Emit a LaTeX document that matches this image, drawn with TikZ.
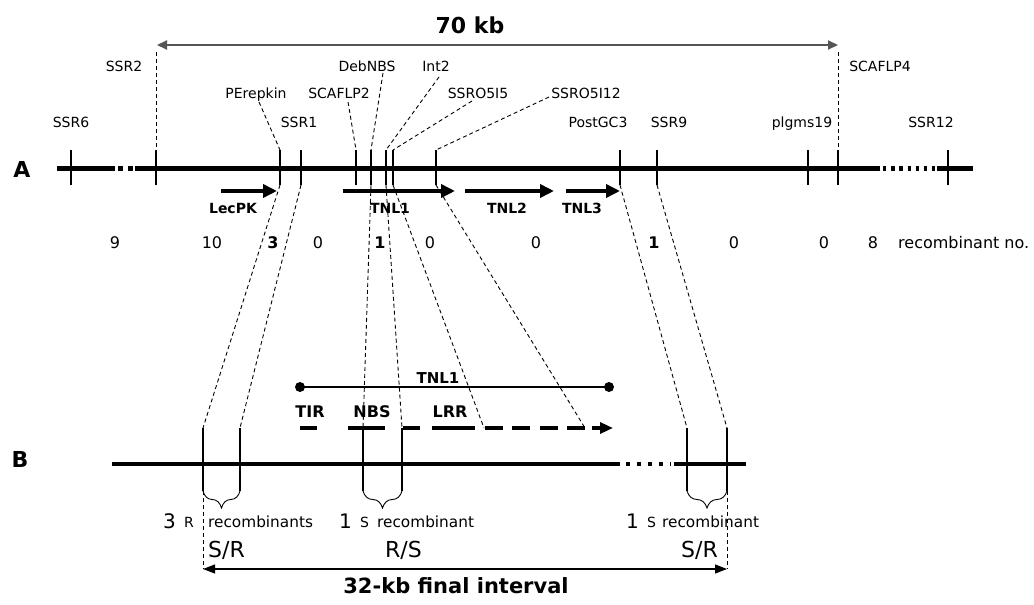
\documentclass[tikz,border=0pt]{standalone}
\usepackage{fontspec}
\setmainfont{DejaVu Sans}
\usetikzlibrary{arrows.meta,decorations.pathreplacing}
\newcommand\myfs[1]{\fontsize{#1}{#1}\selectfont}
\begin{document}
\begin{tikzpicture}[x=1pt,y=-1pt,
  tickln/.style={line width=1.3pt},
  lead/.style={line width=0.9pt,dash pattern=on 4pt off 3pt},
  chrom/.style={line width=5pt},
  gene/.style={line width=4.5pt,-{Triangle[length=14pt,width=13pt]}},
  dom/.style={line width=4.5pt},
  lbl/.style={font=\myfs{14},inner sep=0pt,anchor=base},
  glbl/.style={font=\bfseries\myfs{14},inner sep=0pt,anchor=base},
  num/.style={font=\myfs{16},inner sep=0pt,anchor=base},
  bnum/.style={font=\bfseries\myfs{16},inner sep=0pt,anchor=base},
  big/.style={font=\bfseries\myfs{22},inner sep=0pt,anchor=base},
  rec/.style={font=\myfs{15.3},inner sep=0pt,anchor=base west},
  recn/.style={font=\myfs{20},inner sep=0pt,anchor=base west},
  recl/.style={font=\myfs{14},inner sep=0pt,anchor=base west},
  phen/.style={font=\myfs{22},inner sep=0pt,anchor=base west},
  brc/.style={decorate,decoration={brace,mirror,amplitude=17pt,aspect=0.5},line width=0.9pt},
]
\useasboundingbox (0,0) rectangle (1034,605);

% ---- title arrow 70 kb
\node[big] (t70) at (470,33) {70 kb};
\coordinate (k70L) at (157,45);
\coordinate (k70R) at (838,45);
\draw[line width=2pt,color={rgb,255:red,85;green,85;blue,85},
  {Triangle[length=10pt,width=9pt]}-{Triangle[length=10pt,width=9pt]}] (k70L) -- (k70R);

% ---- A chromosome line
\node[big] (labA) at (22,177) {A};
\draw[chrom] (57,168) -- (115,168);
\draw[chrom,dash pattern=on 5pt off 5pt] (118,168) -- (134,168);
\draw[chrom] (135,168) -- (880,168);
\draw[chrom,dash pattern=on 3.3pt off 4.9pt] (883,168) -- (935,168);
\draw[chrom] (937,168) -- (973,168);

% ---- ticks on A
\foreach \n/\x in {ssr6/71,ssr2/156,perep/280,ssr1/301,scaf2/356,deb/371,int2/386,o5i5/393,o5i12/436,post/620,ssr9/657,plg/808,scaf4/838,ssr12/948}{
  \coordinate (\n-t) at (\x,150);
  \coordinate (\n-b) at (\x,185);
  \draw[tickln] (\n-t) -- (\n-b);
}

% ---- marker labels
\node[lbl] (lSSR2) at (124,71) {SSR2};
\node[lbl] (lDeb) at (367,71) {DebNBS};
\node[lbl] (lInt2) at (436,71) {Int2};
\node[lbl] (lScaf4) at (880,71) {SCAFLP4};
\node[lbl] (lPerep) at (256,98) {PErepkin};
\node[lbl] (lScaf2) at (339,98) {SCAFLP2};
\node[lbl] (lO5i5) at (478,98) {SSRO5I5};
\node[lbl] (lO5i12) at (586,98) {SSRO5I12};
\node[lbl] (lSSR6) at (71,127) {SSR6};
\node[lbl] (lSSR1) at (299,127) {SSR1};
\node[lbl] (lPost) at (598,127) {PostGC3};
\node[lbl] (lSSR9) at (669,127) {SSR9};
\node[lbl] (lPlg) at (802,127) {plgms19};
\node[lbl] (lSSR12) at (931,127) {SSR12};

% ---- leaders from labels to ticks
\coordinate (cSSR2) at (156,52);
\coordinate (cScaf4) at (838,52);
\coordinate (cPerep) at (259,102);
\coordinate (cScaf2) at (348,102);
\coordinate (cDeb) at (383,73);
\coordinate (cInt2) at (439,77);
\coordinate (cO5i5) at (472,101);
\coordinate (cO5i12) at (549,97);
\draw[lead] (cSSR2) -- (ssr2-t);
\draw[lead] (cScaf4) -- (scaf4-t);
\draw[lead] (cPerep) -- (perep-t);
\draw[lead] (cScaf2) -- (scaf2-t);
\draw[lead] (cDeb) -- (deb-t);
\draw[lead] (cInt2) -- (int2-t);
\draw[lead] (cO5i5) -- (o5i5-t);
\draw[lead] (cO5i12) -- (o5i12-t);

% ---- genes
\coordinate (g1s) at (221,191); \coordinate (g1e) at (277,191);
\coordinate (g2s) at (343,191); \coordinate (g2e) at (455,191);
\coordinate (g3s) at (465,191); \coordinate (g3e) at (554,191);
\coordinate (g4s) at (566,191); \coordinate (g4e) at (620,191);
\draw[gene] (g1s) -- (g1e);
\draw[gene] (g2s) -- (g2e);
\draw[gene] (g3s) -- (g3e);
\draw[gene] (g4s) -- (g4e);
\node[glbl] (nLec) at (233,213) {LecPK};
\node[glbl] (nT1) at (390,213) {TNL1};
\node[glbl] (nT2) at (507,213) {TNL2};
\node[glbl] (nT3) at (582,213) {TNL3};

% ---- recombinant numbers
\node[num] (r1) at (115,248) {9};
\node[num] (r2) at (212,248) {10};
\node[bnum] (r3) at (273,248) {3};
\node[num] (r4) at (318,248) {0};
\node[bnum] (r5) at (380,248) {1};
\node[num] (r6) at (430,248) {0};
\node[num] (r7) at (536,248) {0};
\node[bnum] (r8) at (654,248) {1};
\node[num] (r9) at (734,248) {0};
\node[num] (r10) at (824,248) {0};
\node[num] (r11) at (873,248) {8};
\node[num,anchor=base west] (rno) at (898,248) {recombinant no.};

% ---- B line
\node[big] (labB) at (20,467) {B};
\draw[chrom,line width=4.5pt] (112,464) -- (620,464);
\draw[chrom,line width=4.5pt,dash pattern=on 4pt off 7pt] (626,464) -- (671,464);
\draw[chrom,line width=4.5pt] (674,464) -- (746,464);

% ---- ticks on B
\foreach \n/\x in {bA/203,bB/240,bC/363,bD/402,bE/687,bF/727}{
  \coordinate (\n-t) at (\x,428);
  \coordinate (\n-b) at (\x,491);
  \draw[tickln] (\n-t) -- (\n-b);
}

% ---- TNL1 structure
\coordinate (tnlL) at (300,387);
\coordinate (tnlR) at (609,387);
\draw[line width=1.2pt] (tnlL) -- (tnlR);
\fill (tnlL) circle (5pt);
\fill (tnlR) circle (5pt);
\node[glbl,font=\bfseries\myfs{15}] (nTNL1b) at (438,383) {TNL1};
\node[glbl,font=\bfseries\myfs{16}] (nTIR) at (310,417) {TIR};
\node[glbl,font=\bfseries\myfs{16}] (nNBS) at (372,417) {NBS};
\node[glbl,font=\bfseries\myfs{16}] (nLRR) at (450,417) {LRR};
\draw[dom] (300,428) -- (317,428);
\draw[dom] (348,428) -- (385,428);
\draw[dom] (403,428) -- (420,428);
\draw[dom] (432,428) -- (475,428);
\coordinate (lrrend) at (484,428);
\coordinate (arrend) at (585,428);
\draw[dom,dash pattern=on 18pt off 9.3pt] (485,428) -- (586,428);
\draw[dom,-{Triangle[length=13pt,width=11pt]}] (592,428) -- (613,428);

% ---- connectors A -> B
\draw[lead] (perep-b) -- (bA-t);
\draw[lead] (ssr1-b) -- (bB-t);
\draw[lead] (deb-b) -- (bC-t);
\draw[lead] (int2-b) -- (bD-t);
\draw[lead] (o5i5-b) -- (lrrend);
\draw[lead] (o5i12-b) -- (arrend);
\draw[lead] (post-b) -- (bE-t);
\draw[lead] (ssr9-b) -- (bF-t);

% ---- braces
\draw[brc] (bA-b) -- (bB-b);
\draw[brc] (bC-b) -- (bD-b);
\draw[brc] (bE-b) -- (bF-b);

% ---- recombinant texts
\node[recn] (x1n) at (163,528) {3};
\node[recl] (x1l) at (184,527) {R};
\node[rec] (x1t) at (208,527) {recombinants};
\node[phen] (x1p) at (208,557) {S/R};
\node[recn] (x2n) at (339,528) {1};
\node[recl] (x2l) at (360,527) {S};
\node[rec] (x2t) at (377,527) {recombinant};
\node[phen] (x2p) at (385,557) {R/S};
\node[recn] (x3n) at (626,528) {1};
\node[recl] (x3l) at (647,527) {S};
\node[rec] (x3t) at (662,527) {recombinant};
\node[phen] (x3p) at (681,557) {S/R};

% ---- final interval
\coordinate (fiL) at (203,569);
\coordinate (fiR) at (727,569);
\draw[lead] (bA-b) -- (fiL);
\draw[lead] (bF-b) -- (fiR);
\draw[line width=1.2pt,{Triangle[length=12pt,width=9pt]}-{Triangle[length=12pt,width=9pt]}] (fiL) -- (fiR);
\node[big,font=\bfseries\myfs{21}] (fiT) at (456,593) {32-kb final interval};
\end{tikzpicture}
\end{document}
